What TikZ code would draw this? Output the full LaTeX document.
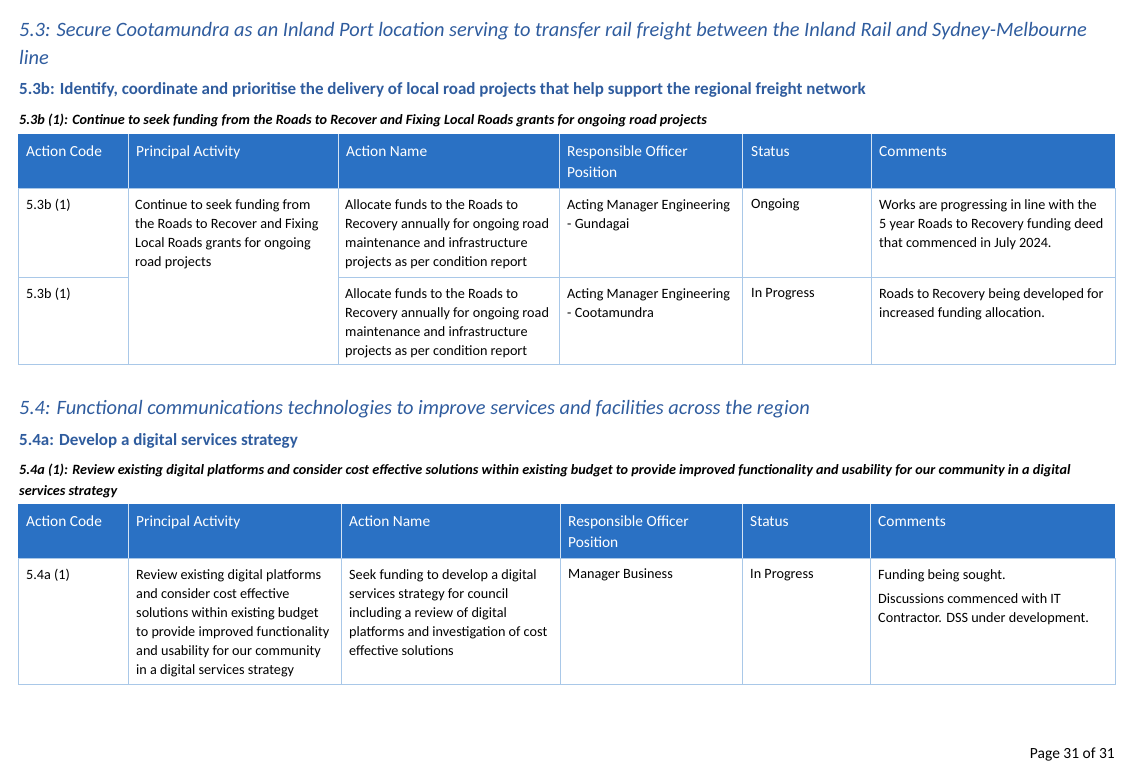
\documentclass[tikz,border=0pt]{standalone}
\usepackage{fontspec}
\setmainfont{Carlito}
\definecolor{headblue}{HTML}{2A71C4}
\definecolor{titleblue}{HTML}{2F5C9E}
\definecolor{gridblue}{HTML}{A9C8E8}
\tikzset{
	cell/.style={anchor=north west, inner sep=0pt, align=left, font=\fontsize{14.2}{19}\selectfont},
	headcell/.style={cell, text=white, font=\fontsize{15.4}{21}\selectfont},
	title/.style={anchor=west, inner sep=0pt, text=titleblue, font=\fontsize{20.4}{26}\selectfont\itshape},
	subtitle/.style={anchor=west, inner sep=0pt, text=titleblue, font=\fontsize{17}{20}\selectfont\bfseries},
	caption/.style={anchor=west, inner sep=0pt, font=\fontsize{14.2}{21}\selectfont\bfseries\itshape},
	grid/.style={draw=gridblue, line width=0.8pt}
}
\begin{document}
\begin{tikzpicture}[x=1pt,y=-1pt]
	\useasboundingbox (0,0) rectangle (1134,782);
	% headings
	\node[title] (h53) at (19,31) {5.3: Secure Cootamundra as an Inland Port location serving to transfer rail freight between the Inland Rail and Sydney-Melbourne};
	\node[title] (h53b) at (19,57) {line};
	\node[subtitle] (s53b) at (19,90) {5.3b: Identify, coordinate and prioritise the delivery of local road projects that help support the regional freight network};
	\node[caption] (c53b) at (19,120) {5.3b (1): Continue to seek funding from the Roads to Recover and Fixing Local Roads grants for ongoing road projects};
	% table 1
	\fill[headblue] (18,134) rectangle (1115,188);
	\draw[grid] (18,188) rectangle (1115,364);
	\draw[grid] (18,277) -- (128,277) (338,277) -- (1115,277);
	\foreach \x in {128,338,559,742,871} \draw[grid] (\x,188) -- (\x,364);
	\foreach \x in {128,338,559,742,871} \draw[white!80!headblue] (\x,134) -- (\x,188);
	\node[headcell] (a1) at (26,146) {Action Code};
	\node[headcell] (b1) at (136,146) {Principal Activity};
	\node[headcell] (c1) at (346,146) {Action Name};
	\node[headcell] (d1) at (567,146) {Responsible Officer\\Position};
	\node[headcell] (e1) at (751,146) {Status};
	\node[headcell] (f1) at (879,146) {Comments};
	\node[cell] (a2) at (26,199) {5.3b (1)};
	\node[cell] (b2) at (135,199) {Continue to seek funding from\\the Roads to Recover and Fixing\\Local Roads grants for ongoing\\road projects};
	\node[cell] (c2) at (345,199) {Allocate funds to the Roads to\\Recovery annually for ongoing road\\maintenance and infrastructure\\projects as per condition report};
	\node[cell] (d2) at (567,199) {Acting Manager Engineering\\- Gundagai};
	\node[cell] (e2) at (751,199) {Ongoing};
	\node[cell] (f2) at (879,199) {Works are progressing in line with the\\5 year Roads to Recovery funding deed\\that commenced in July 2024.};
	\node[cell] (a3) at (26,288) {5.3b (1)};
	\node[cell] (c3) at (345,288) {Allocate funds to the Roads to\\Recovery annually for ongoing road\\maintenance and infrastructure\\projects as per condition report};
	\node[cell] (d3) at (567,288) {Acting Manager Engineering\\- Cootamundra};
	\node[cell] (e3) at (751,288) {In Progress};
	\node[cell] (f3) at (879,288) {Roads to Recovery being developed for\\increased funding allocation.};
	% section 5.4
	\node[title] (h54) at (19,409) {5.4: Functional communications technologies to improve services and facilities across the region};
	\node[subtitle] (s54a) at (19,441) {5.4a: Develop a digital services strategy};
	\node[caption, align=left] (c54a) at (19,481) {5.4a (1): Review existing digital platforms and consider cost effective solutions within existing budget to provide improved functionality and usability for our community in\ a digital\\services strategy};
	% table 2
	\fill[headblue] (18,504) rectangle (1115,558);
	\draw[grid] (18,558) rectangle (1115,684);
	\foreach \x in {128,341,560,742,870} \draw[grid] (\x,558) -- (\x,684);
	\foreach \x in {128,341,560,742,870} \draw[white!80!headblue] (\x,504) -- (\x,558);
	\node[headcell] (a4) at (26,516) {Action Code};
	\node[headcell] (b4) at (136,516) {Principal Activity};
	\node[headcell] (c4) at (349,516) {Action Name};
	\node[headcell] (d4) at (568,516) {Responsible Officer\\Position};
	\node[headcell] (e4) at (750,516) {Status};
	\node[headcell] (f4) at (878,516) {Comments};
	\node[cell] (a5) at (26,569) {5.4a (1)};
	\node[cell] (b5) at (136,569) {Review existing digital platforms\\and consider cost effective\\solutions within existing budget\\to provide improved functionality\\and usability for our community\\in a digital services strategy};
	\node[cell] (c5) at (349,569) {Seek funding to develop a digital\\services strategy for council\\including a review of digital\\platforms and investigation of cost\\effective solutions};
	\node[cell] (d5) at (568,569) {Manager Business};
	\node[cell] (e5) at (750,569) {In Progress};
	\node[cell] (f5) at (878,569) {Funding being sought.\\[5pt]Discussions commenced with IT\\Contractor. DSS under development.};
	% footer
	\node[anchor=east, inner sep=0pt, font=\fontsize{15.5}{17}\selectfont] (page) at (1115,755) {Page 31 of 31};
\end{tikzpicture}
\end{document}
